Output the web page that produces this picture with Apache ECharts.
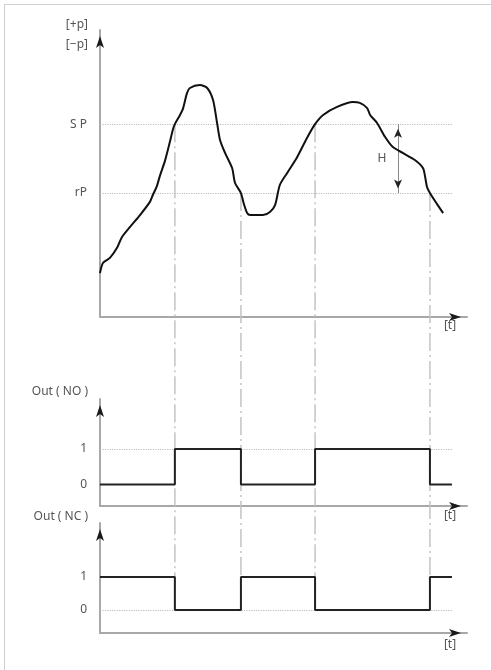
<!DOCTYPE html>
<html><head><meta charset="utf-8">
<script src="https://cdn.jsdelivr.net/npm/echarts@6/dist/echarts.min.js"></script>
<style>
html,body{margin:0;padding:0;background:#fff;overflow:hidden;width:491px;height:670px;}
#frame{position:absolute;left:4px;top:4px;width:520px;height:720px;border-left:1.5px solid #cfcfcf;border-top:1.5px solid #cfcfcf;}
#chart{position:absolute;left:0;top:0;width:491px;height:670px;}
</style></head><body>
<div id="frame"></div><div id="chart"></div>
<script>
// ---- data ----
const curveT = [0,0.8,2.7,4.6,6.0,8.2,10.9,13.6,14.4,15.5,16.3,17.7,19.1,19.9,20.4,21.8,22.6,23.7,24.5,27.2,29.2,30.8,31.9,32.7,34.1,36.0,36.8,38.4,39.2,40.1,40.9,44.4,46.3,47.7,49.0,51.0,53.7,56.4,58.6,60.8,64.6,68.9,70.8,72.8,73.6,75.5,77.7,79.8,82.6,85.8,88.0,88.6,89.1,89.9,91.8,93.5];
const curveP = [15.3,18.8,20.6,24.0,27.9,31.4,35.5,40.1,42.5,45.6,49.1,54.4,61.3,65.5,67.2,70.4,72.5,78.0,79.8,80.8,79.8,75.6,67.6,61.7,57.1,51.9,46.7,43.2,39.4,36.2,35.5,35.5,36.6,39.0,46.0,50.2,55.7,62.4,67.2,70.4,73.2,74.9,74.6,72.8,70.4,67.6,62.7,59.2,57.1,54.7,51.9,48.8,45.3,43.2,39.4,36.2];
const SP = 67.2, rP = 43.2;
const levelNames = ['rP', 'S P'];
const switchT = [20.4, 38.4, 58.6, 89.9];
const stepT = [0, 20.4, 38.4, 58.6, 89.9, 95.9];
const outNO = [0, 1, 0, 1, 0, 0];
const outNC = [1, 0, 1, 0, 1, 1];
const guideFrom = [SP, rP, SP, rP];
const guideTo = -102.1;
const hT = 81.2;
const dotEnd = 96.2;
const outTicks = [0, 1];

// ---- style ----
const AXIS_GRAY = '#a8a8a8', ARROW = '#1a1a1a', TXT = '#555';
const FONT = 'Noto Sans';
const GUIDE = '#c4c4c4', DOT = '#bdbdbd';

function xMain(g, padTop) {
  return {type:'value', gridIndex:g, min:0, max:100, position:'bottom',
    axisLine:{onZero:false, lineStyle:{color:AXIS_GRAY, width:2}},
    axisTick:{show:false}, axisLabel:{show:false}, splitLine:{show:false},
    name:'[t]', nameLocation:'end', nameGap:-17,
    nameTextStyle:{align:'center', verticalAlign:'top', padding:[padTop,0,0,0], color:TXT, fontSize:12, fontFamily:FONT}};
}
function xArrow(g) {
  return {type:'value', gridIndex:g, min:0, max:100, position:'bottom',
    axisLine:{onZero:false, symbol:['none','arrow'], symbolSize:[6,12], symbolOffset:[0,-6], lineStyle:{color:ARROW, width:0.01}},
    axisTick:{show:false}, axisLabel:{show:false}, splitLine:{show:false}};
}
function yMain(g, min, max, vals, fmt, name, gap) {
  return {type:'value', gridIndex:g, min:min, max:max, position:'left',
    axisLine:{onZero:false, lineStyle:{color:AXIS_GRAY, width:2}},
    axisTick:{show:false}, splitLine:{show:false},
    axisLabel:{customValues:vals, formatter:fmt, margin:13, color:TXT, fontSize:12, fontFamily:FONT},
    name:name, nameLocation:'end', nameGap:gap,
    nameTextStyle:{align:'right', verticalAlign:'middle', padding:[0,12,0,0], lineHeight:20, color:TXT, fontSize:12, fontFamily:FONT}};
}
function yArrow(g, min, max) {
  return {type:'value', gridIndex:g, min:min, max:max, position:'left',
    axisLine:{onZero:false, symbol:['none','arrow'], symbolSize:[6,12], symbolOffset:[0,-6], lineStyle:{color:ARROW, width:0.01}},
    axisTick:{show:false}, axisLabel:{show:false}, splitLine:{show:false}};
}
const dotStyle = {type:'dotted', color:DOT, width:1.2};
function dotted(v) {
  return [{coord:[0, v], lineStyle:dotStyle}, {coord:[dotEnd, v]}];
}

const guideSeries = switchT.map((t, i) => ({
  type:'line', xAxisIndex:6, yAxisIndex:6, symbol:'none', silent:true, z:1,
  data:[[t, guideFrom[i]], [t, guideTo]],
  lineStyle:{color:GUIDE, width:1.5, type:[18,4,2,4]}
}));

const hEnd = {symbol:'arrow', symbolSize:[6,9], symbolOffset:[0,'50%'], itemStyle:{color:'#222'}};

const option = {
  animation:false,
  backgroundColor:'transparent',
  grid:[
    {left:100, right:24, top:30, height:287, outerBoundsMode:'none'},
    {left:100, right:24, top:399, height:107, outerBoundsMode:'none'},
    {left:100, right:24, top:523, height:110, outerBoundsMode:'none'},
    {left:100, right:24, top:30, height:603, outerBoundsMode:'none'}
  ],
  xAxis:[xMain(0,3), xArrow(0), xMain(1,4), xArrow(1), xMain(2,6), xArrow(2),
    {type:'value', gridIndex:3, min:0, max:100, show:false}],
  yAxis:[
    yMain(0, 0, 100, [rP, SP], v => (Math.abs(v - SP) < 0.01 ? levelNames[1] : levelNames[0]), '[+p]\n[\u2212p]', -5),
    yArrow(0, 0, 100),
    yMain(1, -0.6, 2.4, outTicks, v => String(Math.round(v)), 'Out ( NO )', 7),
    yArrow(1, -0.6, 2.4),
    yMain(2, -0.7, 2.64, outTicks, v => String(Math.round(v)), 'Out ( NC )', 6),
    yArrow(2, -0.7, 2.64),
    {type:'value', gridIndex:3, min:-110.1, max:100, show:false}
  ],
  series:[
    {type:'line', xAxisIndex:0, yAxisIndex:0, symbol:'none', smooth:0.25, z:5,
      data:curveT.map((t, i) => [t, curveP[i]]),
      lineStyle:{color:'#111', width:2},
      markLine:{silent:true, symbol:['none','none'], label:{show:false}, animation:false,
        data:[
          dotted(SP),
          dotted(rP),
          [{coord:[hT, SP], lineStyle:{color:'#8a8a8a', width:1, type:'solid'}}, {coord:[hT, rP]}],
          [Object.assign({coord:[hT, SP], lineStyle:{color:'#222', width:0.01, type:'solid'}}, hEnd),
           Object.assign({coord:[hT, rP]}, hEnd)]
        ]},
      markPoint:{silent:true, animation:false,
        data:[{coord:[hT, (SP + rP) / 2], symbol:'circle', symbolSize:1, itemStyle:{color:'rgba(0,0,0,0)'},
          label:{show:true, formatter:'H', position:'left', distance:11, color:TXT, fontSize:12, fontFamily:FONT}}]}
    },
    {type:'line', xAxisIndex:2, yAxisIndex:2, symbol:'none', step:'end', z:5,
      data:stepT.map((t, i) => [t, outNO[i]]),
      lineStyle:{color:'#222', width:2},
      markLine:{silent:true, symbol:['none','none'], label:{show:false}, data:[dotted(1)]}
    },
    {type:'line', xAxisIndex:4, yAxisIndex:4, symbol:'none', step:'end', z:5,
      data:stepT.map((t, i) => [t, outNC[i]]),
      lineStyle:{color:'#222', width:2},
      markLine:{silent:true, symbol:['none','none'], label:{show:false}, data:[dotted(0)]}
    }
  ].concat(guideSeries)
};
const chart = echarts.init(document.getElementById('chart'), null, {renderer:'canvas'});
chart.setOption(option);
</script>
</body></html>
